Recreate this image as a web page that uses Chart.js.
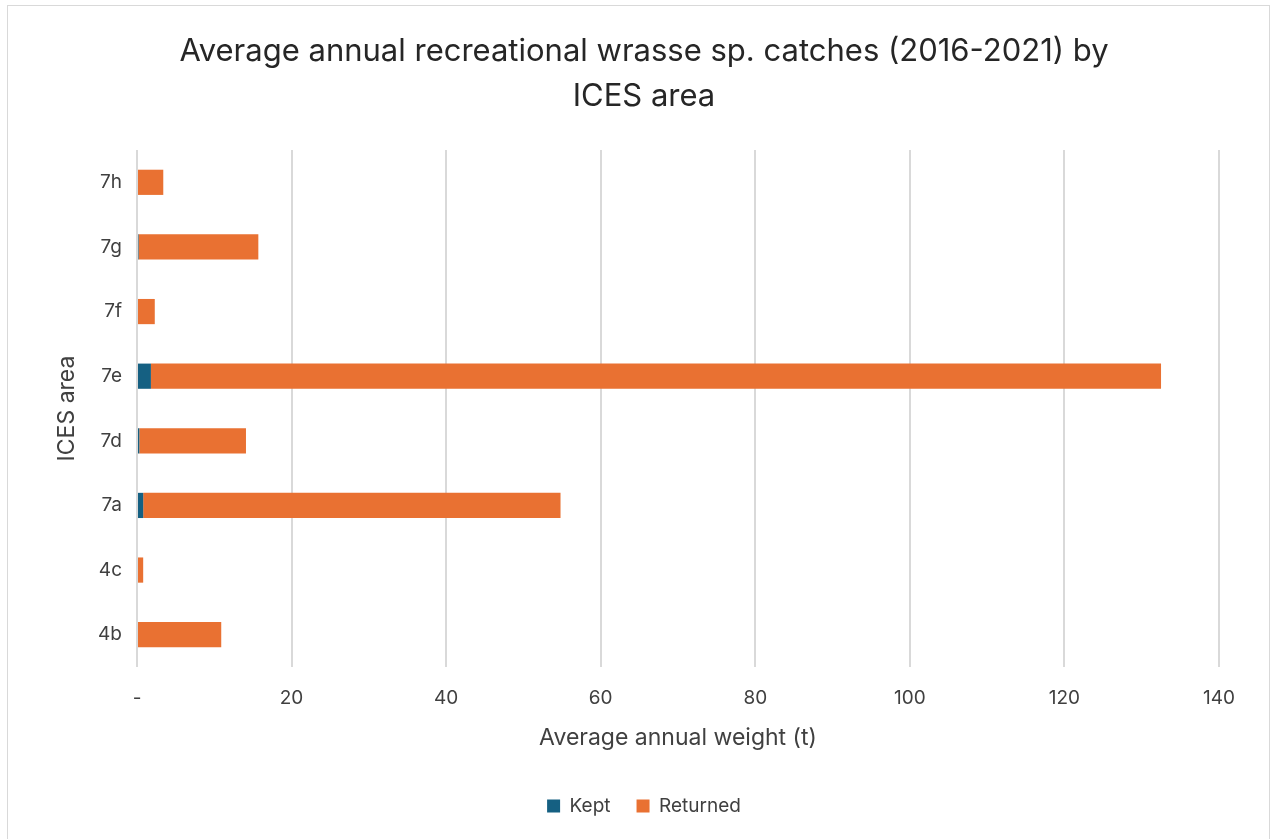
<!DOCTYPE html>
<html>
<head>
<meta charset="utf-8">
<script src="https://cdn.jsdelivr.net/npm/chart.js@4/dist/chart.umd.min.js"></script>
<style>
  html, body { margin: 0; padding: 0; background: #ffffff; }
  #wrap { position: relative; width: 1281px; height: 839px; overflow: hidden; }
  #chart { position: absolute; left: 0; top: 0; }
  #frame {
    position: absolute; left: 7px; top: 5px; width: 1263px; height: 900px;
    border: 1.5px solid #d9d9d9; pointer-events: none; box-sizing: border-box;
  }
</style>
</head>
<body>
<div id="wrap">
  <canvas id="chart" width="1281" height="839"></canvas>
  <div id="frame"></div>
</div>
<script>
// ICES areas, listed bottom to top
const areas = ['4b', '4c', '7a', '7d', '7e', '7f', '7g', '7h'];
// Average annual weight (t), 2016-2021
const kept     = [0,    0,   0.8,  0.3, 1.8,   0,   0.2,  0];
const returned = [10.9, 0.8, 54.0, 13.8, 130.7, 2.3, 15.5, 3.4];
// x-axis tick labels at 0, 20, ... 140
const xTickLabels = ['-', '20', '40', '60', '80', '100', '120', '140'];

const FONT = "Inter, 'Open Sans', sans-serif";
const TEXT = '#404040';

new Chart(document.getElementById('chart'), {
  type: 'bar',
  data: {
    labels: areas,
    datasets: [
      { label: 'Kept', data: kept, backgroundColor: '#156082', borderWidth: 0 },
      { label: 'Returned', data: returned, backgroundColor: '#E97132', borderWidth: 0 }
    ]
  },
  options: {
    indexAxis: 'y',
    responsive: false,
    animation: false,
    layout: { padding: { top: 10, left: 12, right: 5, bottom: 13.5 } },
    datasets: { bar: { categoryPercentage: 1, barPercentage: 0.39 } },
    scales: {
      x: {
        stacked: true,
        min: 0, max: 140,
        ticks: {
          stepSize: 20,
          padding: 20,
          color: TEXT,
          font: { family: FONT, size: 19 },
          callback: (v) => xTickLabels[Math.round(v / 20)]
        },
        grid: { color: '#d9d9d9', lineWidth: 2, drawTicks: false },
        border: { display: false },
        title: {
          display: true,
          text: 'Average annual weight (t)',
          color: TEXT,
          font: { family: FONT, size: 23 },
          padding: { top: 0, bottom: 18.7 }
        },
        afterFit: (s) => { s.height = 103.5; }
      },
      y: {
        stacked: true,
        reverse: true,
        ticks: {
          padding: 15,
          color: TEXT,
          font: { family: FONT, size: 19 }
        },
        grid: { display: false, drawTicks: false },
        border: { display: false },
        title: {
          display: true,
          text: 'ICES area',
          color: TEXT,
          font: { family: FONT, size: 23 },
          padding: { top: 41, bottom: 0 }
        },
        afterFit: (s) => { s.width = 125; }
      },
      // empty right-hand margin axis, keeps the plot clear of the frame
      yRight: {
        type: 'category',
        position: 'right',
        labels: areas,
        ticks: { display: false },
        grid: { display: false, drawTicks: false },
        border: { display: false },
        afterFit: (s) => { s.width = 57; }
      }
    },
    plugins: {
      title: {
        display: true,
        text: ['Average annual recreational wrasse sp. catches (2016-2021) by', 'ICES area'],
        color: '#262626',
        font: { family: FONT, size: 31, weight: 'normal', lineHeight: 1.45 },
        padding: { top: 19.5, bottom: 30.6 }
      },
      legend: {
        position: 'bottom',
        labels: {
          boxWidth: 13,
          boxHeight: 13,
          padding: 26,
          color: TEXT,
          font: { family: FONT, size: 19 }
        }
      },
      tooltip: { enabled: false }
    }
  }
});
</script>
</body>
</html>
